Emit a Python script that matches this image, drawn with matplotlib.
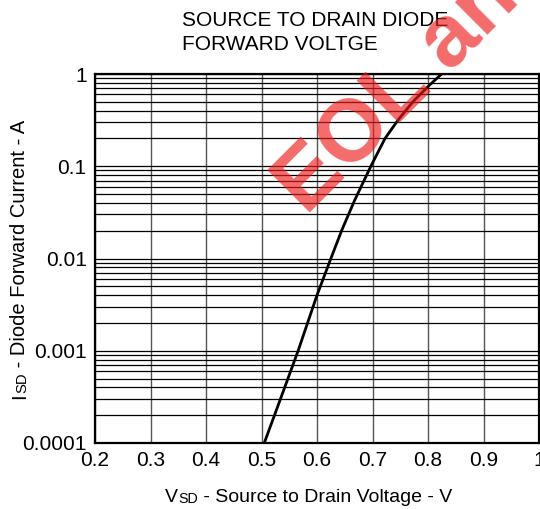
import matplotlib
matplotlib.use('Agg')
import matplotlib.pyplot as plt
from matplotlib.ticker import LogLocator, NullFormatter

# curve
vsd = [0.505, 0.535, 0.566, 0.600, 0.625, 0.645, 0.668, 0.697, 0.7225, 0.7465, 0.7735, 0.8035, 0.8245]
isd = [1e-4, 3.1e-4, 1e-3, 4.0e-3, 1e-2, 2.05e-2, 4.3e-2, 0.1, 0.2, 0.32, 0.506, 0.766, 1.0]

x_ticks = [0.2, 0.3, 0.4, 0.5, 0.6, 0.7, 0.8, 0.9, 1.0]
x_labels = ['0.2', '0.3', '0.4', '0.5', '0.6', '0.7', '0.8', '0.9', '1']
y_ticks = [1e-4, 1e-3, 1e-2, 1e-1, 1]
y_labels = ['0.0001', '0.001', '0.01', '0.1', '1']

title = 'SOURCE TO DRAIN DIODE\nFORWARD VOLTGE'
watermark = 'EOL and Obsolete'

plt.rcParams['font.family'] = ['Liberation Sans', 'DejaVu Sans']

W, H = 540, 509
fig = plt.figure(figsize=(W / 100, H / 100), dpi=100)
ax = fig.add_axes([95 / W, 66 / H, 444 / W, 369 / H])

ax.set_yscale('log')
ax.set_xlim(0.2, 1.0)
ax.set_ylim(1e-4, 1)
ax.set_xticks(x_ticks, x_labels)
ax.set_yticks(y_ticks, y_labels)
ax.yaxis.set_minor_locator(LogLocator(base=10, subs=range(2, 10)))
ax.yaxis.set_minor_formatter(NullFormatter())
ax.tick_params(which='both', length=0, labelsize=15, pad=6)

ax.grid(axis='x', which='major', color='#555555', lw=1.0)
ax.grid(axis='y', which='both', color='black', lw=0.9)
for s in ax.spines.values():
  s.set_linewidth(1.6)

ax.plot(vsd, isd, color='black', lw=2.0, solid_joinstyle='round')

# title, left aligned above the plot (baseline of last line)
fig.text(182 / W, (H - 50) / H, title, fontsize=15, ha='left', va='baseline', linespacing=1.3)

# x label with small "SD"
t1 = fig.text(165 / W, 7 / H, 'V', fontsize=14, ha='left', va='baseline')
t2 = ax.annotate('SD', xy=(1, 0), xycoords=t1, ha='left', va='bottom',
                 fontsize=10.3, annotation_clip=False)
ax.annotate(' - Source to Drain Voltage - V', xy=(1, 0), xycoords=t2, ha='left',
            va='bottom', fontsize=14, annotation_clip=False)

# y label, rotated
u1 = fig.text(29 / W, 110 / H, 'I', fontsize=14.5, rotation=90, ha='right', va='bottom')
u2 = ax.annotate('SD', xy=(1, 1), xycoords=u1, rotation=90, ha='right', va='bottom',
                 fontsize=10.7, annotation_clip=False)
ax.annotate(' - Diode Forward Current - A', xy=(1, 1), xycoords=u2, rotation=90,
            ha='right', va='bottom', fontsize=14.5, annotation_clip=False)

# red watermark on top
fig.text(306 / W, (H - 216) / H, watermark, fontsize=63, fontweight='bold',
         color='#ee1c1c', alpha=0.65, rotation=45, rotation_mode='anchor',
         ha='left', va='baseline', zorder=10)

fig.savefig('out.png', dpi=100)
